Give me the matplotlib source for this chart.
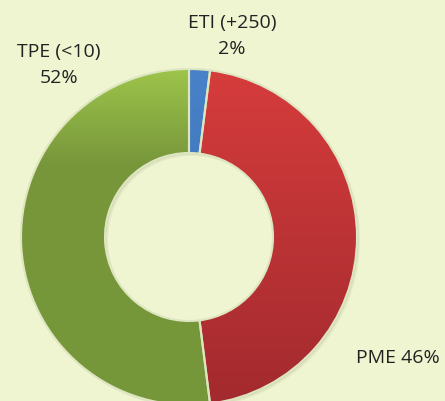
import matplotlib.pyplot as plt
import numpy as np
from matplotlib.colors import LinearSegmentedColormap
from matplotlib.patches import Wedge

labels = ['ETI (+250)', 'PME', 'TPE (<10)']
values = [2, 46, 52]
# (position, couleur) du bas vers le haut
gradients = [
    [(0.0, '#2D68AE'), (1.0, '#4A82C9')],
    [(0.0, '#A22A2E'), (1.0, '#D63C3C')],
    [(0.0, '#76963A'), (0.72, '#78973B'), (1.0, '#9DC44B')],
]

bg = '#EEF5D0'
fig = plt.figure(figsize=(4.45, 4.01), dpi=100, facecolor=bg)
ax = fig.add_axes([0, 0, 1, 1])
ax.set_facecolor(bg)

cx, cy, r = 189, 164, 168

# ombre légère
for k, a in [(3, 0.06), (2, 0.08), (1, 0.1)]:
    ax.add_patch(Wedge((cx + k, cy - k), r, 0, 360, width=r * 0.5,
                       facecolor='#6B6B4A', edgecolor='none', alpha=a, zorder=0.5))

wedges, _ = ax.pie(values, center=(cx, cy), radius=r, startangle=90,
                   counterclock=False, frame=True,
                   wedgeprops=dict(width=r * 0.5, edgecolor='#DDE6C0', linewidth=1.5))

grad = np.linspace(0, 1, 256).reshape(-1, 1)
for w, stops in zip(wedges, gradients):
    cmap = LinearSegmentedColormap.from_list('g', stops)
    im = ax.imshow(grad, cmap=cmap, origin='lower', aspect='auto',
                   extent=(cx - r, cx + r, cy - r, cy + r), zorder=w.get_zorder() - 0.01)
    im.set_clip_path(w)
    w.set_facecolor('none')

ax.set_xlim(0, 445)
ax.set_ylim(0, 401)
ax.set_aspect('auto')
ax.axis('off')

font = 'Open Sans'
fs = 14
ax.text(232, 401 - 23, 'ETI (+250)', ha='center', va='center', fontsize=fs, family=font, color='#222222')
ax.text(232, 401 - 49, '2%', ha='center', va='center', fontsize=fs, family=font, color='#222222')
ax.text(59, 401 - 52, 'TPE (<10)', ha='center', va='center', fontsize=fs, family=font, color='#222222')
ax.text(59, 401 - 78, '52%', ha='center', va='center', fontsize=fs, family=font, color='#222222')
ax.text(398, 401 - 358, 'PME 46%', ha='center', va='center', fontsize=fs, family=font, color='#222222')

fig.savefig('out.png', dpi=100, facecolor=bg)
